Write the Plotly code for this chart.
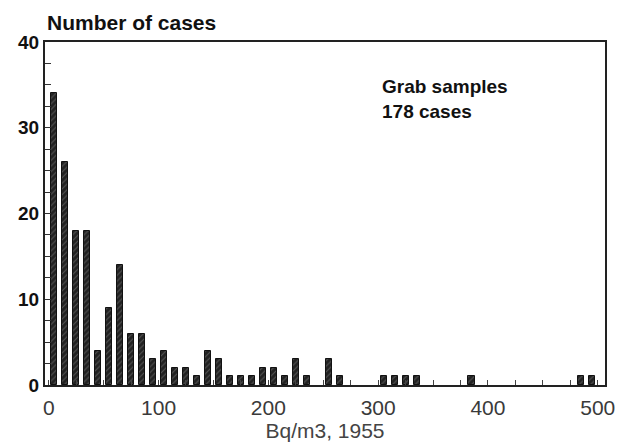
import plotly.graph_objects as go

bin_centers = [5 + 10 * i for i in range(50)]
counts = [34, 26, 18, 18, 4, 9, 14, 6, 6, 3,
          4, 2, 2, 1, 4, 3, 1, 1, 1, 2,
          2, 1, 3, 1, 0, 3, 1, 0, 0, 0,
          1, 1, 1, 1, 0, 0, 0, 0, 1, 0,
          0, 0, 0, 0, 0, 0, 0, 0, 1, 1]
x_ticks = [0, 100, 200, 300, 400, 500]
y_ticks = [0, 10, 20, 30, 40]

# empty bins are not drawn at all
bar_heights = [c if c > 0 else None for c in counts]

fig = go.Figure()
fig.add_trace(go.Bar(
    x=bin_centers, y=bar_heights, width=5.6,
    marker=dict(color="#222222",
                line=dict(color="#111111", width=1),
                pattern=dict(shape="/", fgcolor="#8a8a8a", bgcolor="#222222",
                             size=4, solidity=0.25)),
))

font_main = "Liberation Sans, Arial, sans-serif"
fig.update_layout(
    width=624, height=447,
    margin=dict(l=45, r=9, t=42, b=61),
    plot_bgcolor="white", paper_bgcolor="white",
    showlegend=False,
    bargap=0,
    xaxis=dict(range=[-3.4, 506.6], tickvals=x_ticks, ticktext=[str(v) for v in x_ticks],
               showgrid=False, zeroline=False, showline=True, linecolor="#222",
               linewidth=2, mirror=True, ticks="inside", ticklen=0,
               ticklabelstandoff=3,
               tickfont=dict(family=font_main, size=21, color="#3a3a3a"),
               minor=dict(dtick=25, tick0=0, ticks="inside", ticklen=5,
                          tickwidth=1, tickcolor="#444", showgrid=False),
               title=dict(text="Bq/m3, 1955", standoff=4,
                          font=dict(family=font_main, size=21, color="#444"))),
    yaxis=dict(range=[0, 40], tickvals=y_ticks, showgrid=False, zeroline=False,
               showline=True, linecolor="#222", linewidth=2, mirror=True,
               ticks="inside", ticklen=6, tickcolor="#333",
               tickfont=dict(family=font_main, size=19, color="#111", weight="bold"),
               minor=dict(dtick=2.5, ticks="inside", ticklen=6, tickcolor="#333",
                          showgrid=False)),
)
fig.add_annotation(x=0.0, y=1.0, xref="paper", yref="paper", xanchor="left",
                   yanchor="bottom", yshift=6, showarrow=False,
                   text="<b>Number of cases</b>",
                   font=dict(family=font_main, size=21, color="#111"))
fig.add_annotation(x=302, y=33.3, xref="x", yref="y", xanchor="left",
                   yanchor="middle", showarrow=False, align="left",
                   text="<b>Grab samples<br>178 cases</b>",
                   font=dict(family=font_main, size=19, color="#111"))

fig.write_html("out.html")
